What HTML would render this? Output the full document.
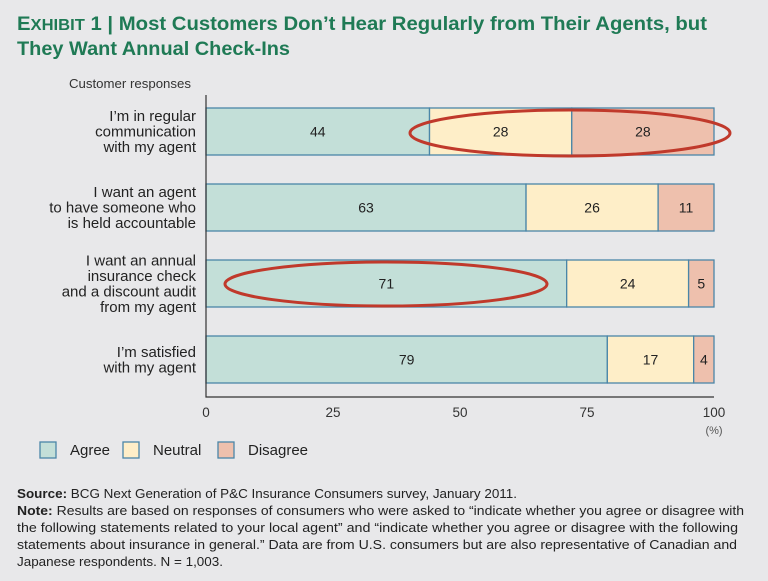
<!DOCTYPE html>
<html><head><meta charset="utf-8"><style>
html,body{margin:0;padding:0;background:#e8e8ea;}
svg{display:block;font-family:"Liberation Sans",sans-serif;}
</style></head><body>
<svg id="chart" width="768" height="581" viewBox="0 0 768 581">
<rect width="768" height="581" fill="#e8e8ea"/>
<text x="17" y="30" font-size="19" font-weight="bold" fill="#1f7a55" textLength="690" lengthAdjust="spacingAndGlyphs">E<tspan font-size="15.5">XHIBIT</tspan> 1 | Most Customers Don’t Hear Regularly from Their Agents, but</text>
<text x="17" y="55" font-size="19" font-weight="bold" fill="#1f7a55" textLength="273" lengthAdjust="spacingAndGlyphs">They Want Annual Check-Ins</text>
<text x="69" y="88" font-size="13" fill="#333" textLength="122" lengthAdjust="spacingAndGlyphs">Customer responses</text>
<g id="plot"></g>
<g id="ticks"></g>
<text x="714" y="434" font-size="11" fill="#555" text-anchor="middle">(%)</text>
<g id="legend"></g>
<ellipse cx="570" cy="133" rx="160" ry="23" fill="none" stroke="#c0392b" stroke-width="3"/>
<ellipse cx="386" cy="284" rx="161" ry="22" fill="none" stroke="#c0392b" stroke-width="3"/>
<g font-size="12.5" fill="#222">
<text x="17" y="498" textLength="500" lengthAdjust="spacingAndGlyphs"><tspan font-weight="bold">Source:</tspan> BCG Next Generation of P&amp;C Insurance Consumers survey, January 2011.</text>
<text x="17" y="515" textLength="727" lengthAdjust="spacingAndGlyphs"><tspan font-weight="bold">Note:</tspan> Results are based on responses of consumers who were asked to “indicate whether you agree or disagree with</text>
<text x="17" y="532" textLength="721" lengthAdjust="spacingAndGlyphs">the following statements related to your local agent” and “indicate whether you agree or disagree with the following</text>
<text x="17" y="549" textLength="720" lengthAdjust="spacingAndGlyphs">statements about insurance in general.” Data are from U.S. consumers but are also representative of Canadian and</text>
<text x="17" y="566" textLength="206" lengthAdjust="spacingAndGlyphs">Japanese respondents. N = 1,003.</text>
</g>
</svg>
<script>
const categories = [
  ["I’m in regular","communication","with my agent"],
  ["I want an agent","to have someone who","is held accountable"],
  ["I want an annual","insurance check","and a discount audit","from my agent"],
  ["I’m satisfied","with my agent"]
];
const agree = [44, 63, 71, 79];
const neutral = [28, 26, 24, 17];
const disagree = [28, 11, 5, 4];
const tickValues = [0, 25, 50, 75, 100];
const seriesNames = ["Agree","Neutral","Disagree"];

const NS = "http://www.w3.org/2000/svg";
const x0 = 206, x1 = 714;
const xs = v => x0 + (x1 - x0) * v / 100;
const rowTop = 108, rowStep = 76, barH = 47;
const colors = ["#c3dfd8","#feeec8","#eec0ad"];
const stroke = "#4a86a8";
function mk(tag, attrs, parent){const e=document.createElementNS(NS,tag);for(const k in attrs)e.setAttribute(k,attrs[k]);parent.appendChild(e);return e;}
const plot = document.getElementById("plot");
const series = [agree, neutral, disagree];
categories.forEach((lines, i) => {
  const y = rowTop + i * rowStep;
  let acc = 0;
  series.forEach((s, j) => {
    const v = s[i];
    const r = mk("rect",{x:xs(acc),y:y,width:xs(acc+v)-xs(acc),height:barH,fill:colors[j],stroke:stroke,"stroke-width":1.3},plot);
    
    
    const t = mk("text",{x:(xs(acc)+xs(acc+v))/2,y:y+barH/2+5,"text-anchor":"middle","font-size":14,fill:"#222"},plot);
    t.textContent = v;
    
    
    acc += v;
  });
  const lh = 15.5, cy = y + barH/2;
  const start = cy - (lines.length-1)*lh/2;
  lines.forEach((ln, k) => {
    const t = mk("text",{x:196,y:start+k*lh+5,"text-anchor":"end","font-size":15,fill:"#222"},plot);
    t.textContent = ln;
    
    
  });
});
const ax = mk("path",{d:`M${x0} 95 V397 H${x1}`,fill:"none",stroke:"#333","stroke-width":1.2},plot);


const ticks = document.getElementById("ticks");
tickValues.forEach(v => {
  const t = mk("text",{x:xs(v),y:417,"text-anchor":"middle","font-size":13.5,fill:"#333"},ticks);
  t.textContent = v;
  
  
});
const legend = document.getElementById("legend");
const lx = [40, 123, 218];
seriesNames.forEach((n, j) => {
  const r = mk("rect",{x:lx[j],y:442,width:16,height:16,fill:colors[j],stroke:stroke,"stroke-width":1.3},legend);
  
  
  const t = mk("text",{x:lx[j]+30,y:455,"font-size":15,fill:"#222"},legend);
  t.textContent = n;
  
  
});
</script>
</body></html>
